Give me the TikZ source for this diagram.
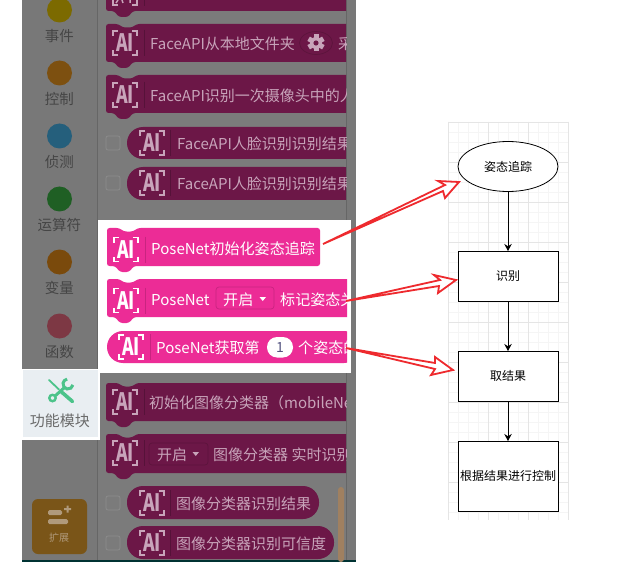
\documentclass[tikz,border=0pt]{standalone}
\usepackage{fontspec}
\usepackage{graphicx}
\setmainfont{Noto Sans CJK SC}
\usetikzlibrary{arrows.meta,positioning,shapes.geometric,calc}
\definecolor{dimgray}{HTML}{787878}
\definecolor{panelgray}{HTML}{7B7B7B}
\definecolor{dimblock}{HTML}{6C1747}
\definecolor{dimtext}{HTML}{C8A4BA}
\definecolor{litblock}{HTML}{EC2C96}
\definecolor{litedge}{HTML}{C92480}
\definecolor{sidetext}{HTML}{454545}
\definecolor{moduleback}{HTML}{E9EEF2}
\definecolor{wrench}{HTML}{4CC38A}
\definecolor{redmark}{HTML}{EE2A2E}
\definecolor{addbutton}{HTML}{7A5518}
\definecolor{addtext}{HTML}{B09A7C}
\definecolor{scrollbar}{HTML}{A08060}
% hat block: x0, y0, x1, y1, colour
\newcommand{\hatblock}[5]{
    \fill[#5, rounded corners=2.5pt] (#1,#4) -- (#1,#2) -- ($(#1,#2)+(12,0)$) -- ($(#1,#2)+(17,3.5)$) -- ($(#1,#2)+(26,3.5)$) -- ($(#1,#2)+(31,0)$) -- (#3,#2) -- (#3,#4) -- ($(#1,#4)+(27,0)$) -- ($(#1,#4)+(22,6)$) -- ($(#1,#4)+(13,6)$) -- ($(#1,#4)+(8,0)$) -- cycle;
}
% pill block: x0, y0, x1, y1, colour
\newcommand{\pillblock}[5]{
    \fill[#5, rounded corners=16pt] (#1,#2) rectangle (#3,#4);
}
% icon corners: cx, cy, colour
\newcommand{\aicorners}[3]{
    \draw[#3, line width=1.2pt] (#1-12,#2-7) |- (#1-7,#2-12) (#1+7,#2-12) -| (#1+12,#2-7) (#1+12,#2+7) |- (#1+7,#2+12) (#1-7,#2+12) -| (#1-12,#2+7);
}
% AI icon: cx, cy, colour, divider x, divider colour
\newcommand{\aiicon}[5]{
    \aicorners{#1}{#2}{#3}
    \node[#3, font=\fontsize{16}{16}\selectfont\bfseries, inner sep=0pt] at (#1,#2) {\scalebox{1.1}[1.5]{AI}};
    \draw[#5, line width=0.7pt] (#4,#2-13) -- (#4,#2+13);
}
\begin{document}
\begin{tikzpicture}[
            x=1pt, y=-1pt,
            sidelabel/.style={text=sidetext, font=\fontsize{14.5}{15}\selectfont, inner sep=0pt},
            dimlabel/.style={anchor=west, text=dimtext, yshift=-0.7pt, font=\fontsize{15}{15}\selectfont, inner sep=0pt},
            litlabel/.style={anchor=west, text=white, yshift=-0.7pt, font=\fontsize{15.05}{15}\selectfont, inner sep=0pt},
            checkbox/.style={draw=black!45, rounded corners=2pt, line width=0.7pt},
            flowbox/.style={draw, line width=0.8pt, fill=white, minimum width=100pt, minimum height=50pt, inner sep=0pt, outer sep=0pt, font=\fontsize{12}{12}\selectfont},
            flowarrow/.style={-{Stealth[length=7pt,width=7.5pt]}, line width=0.8pt},
            redarrow/.style={draw=redmark, fill=white, line width=1.8pt, line join=miter}
        ]
    \useasboundingbox (0,0) rectangle (619,583);
    \fill[white] (0,0) rectangle (619,583);

    % dimmed page
    \fill[dimgray] (22,0) rectangle (356,560);
    \fill[panelgray] (98,0) rectangle (346,560);
    \draw[black!60, line width=0.6pt] (97.5,0) -- (97.5,560);
    \draw[black!60, line width=0.6pt] (346.5,0) -- (346.5,560);
    \fill[black!60!teal] (22,560) rectangle (356,562);

    % side menu
    \foreach \cy/\col/\lab in {10/7C6A00/事件, 73/7D5010/控制, 136/255F7C/侦测, 199/1F5F24/运算符, 262/7A4A0C/变量, 326/7D3844/函数} {
        \definecolor{dotcol}{HTML}{\col}
        \fill[dotcol] (59.5,\cy) circle (12.5);
        \node[sidelabel] at (59.5,\cy+26) {\lab};
    }

    % extension button
    \fill[addbutton, rounded corners=6pt] (32,499) rectangle (87,554);
    \fill[addtext, rounded corners=1.5pt] (48,510) rectangle (62,515) (48,519) rectangle (68,524);
    \fill[addtext] (64,508) rectangle (71,510) (66.5,505.5) rectangle (68.5,512.5);
    \node[text=addtext, font=\fontsize{10}{10}\selectfont, inner sep=0pt] at (59,538) {扩展};

    % highlighted module entry
    \fill[white] (22,369) rectangle (100,440);
    \fill[moduleback] (23,370) rectangle (98,437);
    \draw[wrench, line width=1.8pt, line cap=round] (49,380) -- (59,389.5);
    \draw[wrench, line width=3.6pt, line cap=round] (61,391.5) -- (72.5,401.5);
    \draw[wrench, line width=3pt] (55,396) -- (64,388);
    \draw[wrench, line width=3pt] (72.9,384.9) arc[start angle=10, end angle=260, radius=5];
    \draw[wrench, line width=2.4pt, fill=moduleback] (52.5,398) circle (3.2);
    \node[text=black!58, font=\fontsize{15}{15}\selectfont, inner sep=0pt] at (60,420.5) {功能模块};

    % dimmed blocks, cut at the panel edge
    \begin{scope}
        \clip (98,0) rectangle (346,560);
        \hatblock{106}{-27}{360}{11}{dimblock}
        \hatblock{106}{24}{360}{62}{dimblock}
        \hatblock{106}{75}{360}{113}{dimblock}
        \pillblock{127}{127}{360}{159}{dimblock}
        \pillblock{127}{167}{360}{200}{dimblock}
        \hatblock{106}{383}{360}{421}{dimblock}
        \hatblock{106}{434}{360}{473}{dimblock}
        \pillblock{127}{486}{319}{519}{dimblock}
        \pillblock{127}{526}{334}{559}{dimblock}
        \aicorners{125}{-7}{dimtext}
        \draw[dimtext, line width=1.5pt] (118,0) -- (116,3) (122,0) -- (123,3) (130,0) -- (130,3);
        \draw[black!20!dimblock, line width=0.7pt] (144,0) -- (144,6);
        \aiicon{125}{43}{dimtext}{144}{black!20!dimblock}
        \aiicon{125}{95}{dimtext}{144}{black!20!dimblock}
        \aiicon{152}{143}{dimtext}{170}{black!20!dimblock}
        \aiicon{152}{183}{dimtext}{170}{black!20!dimblock}
        \aiicon{125}{402}{dimtext}{144}{black!20!dimblock}
        \aiicon{125}{453}{dimtext}{144}{black!20!dimblock}
        \aiicon{152}{503}{dimtext}{170}{black!20!dimblock}
        \aiicon{152}{543}{dimtext}{170}{black!20!dimblock}
        \node[dimlabel] at (150,43) {FaceAPI从本地文件夹};
        \draw[black!15!dimblock, line width=0.7pt] (316,43) ellipse (16.5 and 11.5);
        \fill[dimtext] (316,43) circle (6);
        \foreach \a in {0,60,...,300} \fill[dimtext, rotate around={\a:(316,43)}] (313.5,34.5) rectangle (318.5,38);
        \fill[dimblock] (316,43) circle (2.6);
        \node[dimlabel] at (338,43) {采集};
        \node[dimlabel] at (150,95) {FaceAPI识别一次摄像头中的人脸};
        \node[dimlabel] at (177,143) {FaceAPI人脸识别识别结果};
        \node[dimlabel] at (177,183) {FaceAPI人脸识别识别结果};
        \node[dimlabel] at (149,402) {初始化图像分类器（mobileNet};
        \draw[black!15!dimblock, line width=0.7pt, rounded corners=3pt] (149,443) rectangle (208,465);
        \node[dimlabel] at (157,454) {开启};
        \fill[dimtext] (192.5,452) -- (199,452) -- (195.75,456) -- cycle;
        \node[dimlabel] at (213,454) {图像分类器 实时识别};
        \node[dimlabel] at (176,503) {图像分类器识别结果};
        \node[dimlabel] at (176,543) {图像分类器识别可信度};
    \end{scope}
    \foreach \cy in {143,183,503,543}
        \draw[checkbox] (106,\cy-7) rectangle (120,\cy+7);
    \fill[scrollbar, rounded corners=3pt] (338,487) rectangle (344,562);

    % lit window over the page
    \fill[white] (98,220) rectangle (351,373);
    \begin{scope}
        \clip (98,220) rectangle (347,373);
        \hatblock{107}{228}{320}{266}{litblock}
        \hatblock{107}{279}{360}{317}{litblock}
        \pillblock{107}{331}{360}{363}{litblock}
        \aiicon{126}{249.5}{white}{145}{litedge}
        \aiicon{126}{300.5}{white}{145}{litedge}
        \aiicon{131}{347}{white}{150}{litedge}
        \node[litlabel] at (151,248) {PoseNet初始化姿态追踪};
        \node[litlabel] at (151,299) {PoseNet};
        \draw[litedge, line width=0.7pt, rounded corners=3pt] (216,287) rectangle (274,309);
        \node[litlabel] at (223,299) {开启};
        \fill[white] (259.5,297) -- (266,297) -- (262.75,301) -- cycle;
        \node[litlabel] at (280,299) {标记姿态关键点};
        \node[litlabel] at (156,347) {PoseNet获取第};
        \fill[white, rounded corners=10pt] (267,337) rectangle (293,357.5);
        \node[text=black!50!blue!35!gray, font=\fontsize{14}{14}\selectfont, inner sep=0pt] at (280,347.5) {1};
        \node[litlabel] at (298,347) {个姿态的};
    \end{scope}
    \coordinate (tailpose) at (323,244);
    \coordinate (tailmark) at (346,301);
    \coordinate (tailget) at (346,348);

    % flow chart on its grid
    \begin{scope}
        \clip (448,122) rectangle (569,520);
        \foreach \gx in {448,458,...,568} \draw[black!4, line width=0.7pt] (\gx,122) -- (\gx,520);
        \foreach \gy in {122,132,...,520} \draw[black!4, line width=0.7pt] (448,\gy) -- (569,\gy);
        \foreach \gx in {448,488,...,568} \draw[black!10, line width=0.7pt] (\gx,122) -- (\gx,520);
        \foreach \gy in {122,162,...,520} \draw[black!10, line width=0.7pt] (448,\gy) -- (569,\gy);
    \end{scope}
    \node[flowbox, ellipse] (track) at (508,166.5) {姿态追踪};
    \node[flowbox, below=59.5pt of track] (recog) {识别};
    \node[flowbox, below=50pt of recog] (result) {取结果};
    \node[flowbox, below=40pt of result, minimum height=70pt] (control) {根据结果进行控制};
    \draw[flowarrow] (track) -- (recog);
    \draw[flowarrow] (recog) -- (result);
    \draw[flowarrow] (result) -- (control);

    % hand drawn red arrows
    \coordinate (tiptrack) at (459,182);
    \coordinate (tiprecog) at (456,280);
    \coordinate (tipresult) at (453,370);
    \draw[redarrow] (tailpose) -- (445,185) -- (438,181) -- (tiptrack) -- (445,198) -- (443,191) -- cycle;
    \draw[redarrow] (tailmark) -- (440,280) -- (434,275) -- (tiprecog) -- (438,293) -- (439,286) -- cycle;
    \draw[redarrow] (tailget) -- (435,363) -- (435,357) -- (tipresult) -- (431,375) -- (435,369) -- cycle;
\end{tikzpicture}
\end{document}
